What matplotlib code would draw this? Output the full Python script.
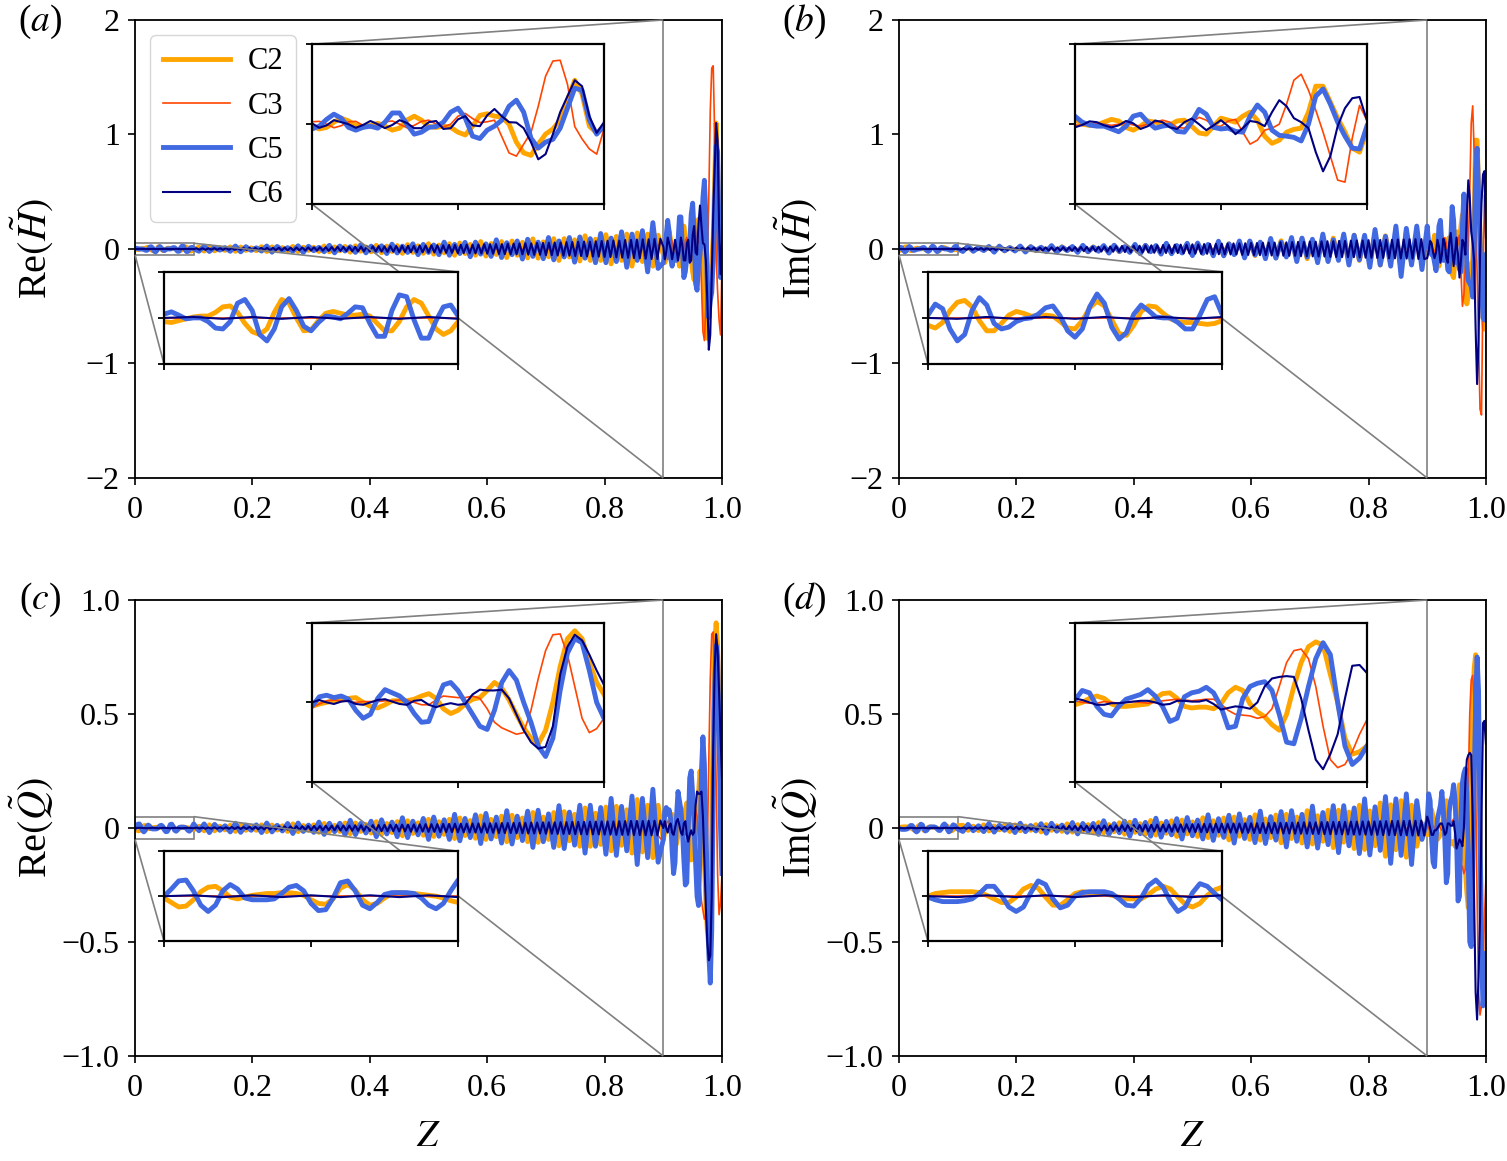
import numpy as np
import matplotlib.pyplot as plt
from mpl_toolkits.axes_grid1.inset_locator import mark_inset

plt.rcParams['font.family'] = ['Liberation Serif', 'DejaVu Serif']
plt.rcParams['mathtext.fontset'] = 'stix'

# sample grids in Z
z_low = np.linspace(0.0, 0.1, 41)
z_mid = np.linspace(0.1, 0.9, 91)[1:-1]
z_high = np.linspace(0.9, 1.0, 41)
z6_low = np.linspace(0.0, 0.1, 11)
z6_mid = np.linspace(0.1, 0.9, 161)[1:-1]
z3_low = [0.0, 0.1, 0.2, 0.3, 0.4, 0.5, 0.6, 0.7, 0.8, 0.88]

names = ['C2', 'C3', 'C5', 'C6']
colors = ['orange', 'orangered', 'royalblue', 'navy']
widths = [3.5, 1.2, 3.5, 1.5]

# ---------------- (a) Re(H) ----------------
c2_low_a = [-0.004,-0.005,-0.003,-0.001,0.001,0.002,0.002,0.006,0.012,0.013,0.006,-0.006,-0.015,-0.018,-0.012,0.006,0.02,0.016,0.0,-0.014,-0.013,-0.003,0.005,0.007,0.005,0.003,0.003,0.004,0.002,-0.006,-0.014,-0.014,-0.004,0.012,0.02,0.016,0.002,-0.012,-0.018,-0.014,-0.004]
c2_mid_a = [0.015,-0.018,0.02,-0.016,0.01,-0.012,0.018,-0.02,0.017,-0.012,0.01,
            -0.015,0.02,-0.022,0.018,-0.012,0.012,-0.018,0.022,-0.022,0.016,-0.012,
            0.015,-0.022,0.026,-0.025,0.018,-0.016,0.022,-0.028,0.028,-0.02,0.018,
            -0.025,0.032,-0.033,0.025,-0.022,0.03,-0.038,0.038,-0.03,0.028,-0.038,
            0.046,-0.045,0.034,-0.034,0.046,-0.055,0.052,-0.04,0.04,-0.055,0.065,
            -0.062,0.048,-0.048,0.065,-0.075,0.07,-0.055,0.058,-0.078,0.088,-0.08,
            0.062,-0.068,0.09,-0.1,0.09,-0.07,0.08,-0.105,0.115,-0.1,0.085,
            -0.1,0.125,-0.13,0.11,-0.1,0.13,-0.15,0.14,-0.11,0.13,-0.15,0.12]
c2_high_a = [-0.05,-0.12,-0.08,0.05,0.15,0.08,-0.03,-0.07,-0.03,0.02,-0.05,-0.15,-0.1,0.1,0.2,0.1,-0.06,-0.08,-0.05,-0.08,-0.2,-0.27,-0.05,0.22,0.26,0.2,0.18,0.0,-0.45,-0.72,-0.78,-0.5,-0.25,-0.12,0.1,0.6,1.1,0.75,-0.05,-0.22,-0.05]
c3_low_a = [0.0, 0.0, 0.0, 0.0, 0.0, 0.0, 0.0, 0.0, 0.0, 0.0]
c3_high_a = [0.06,0.07,0.0,-0.09,-0.04,0.06,0.07,-0.03,-0.09,-0.04,0.06,0.08,0.0,-0.09,-0.03,0.07,0.1,0.0,-0.07,0.0,0.2,0.27,0.14,0.04,0.06,0.1,-0.31,-0.72,-0.8,-0.5,-0.21,0.45,1.2,1.58,1.6,1.0,-0.06,-0.37,-0.62,-0.75,-0.12]
c5_low_a = [0.004,0.0066,0.003,-0.001,0.0,0.0,-0.004,-0.011,-0.012,-0.004,0.016,0.02,0.008,-0.018,-0.025,-0.012,0.012,0.021,0.008,-0.009,-0.014,-0.005,0.002,0.001,-0.001,0.005,0.012,0.011,-0.006,-0.02,-0.02,0.008,0.025,0.023,-0.002,-0.022,-0.022,-0.003,0.012,0.014,0.002]
c5_mid_a = [-0.02,0.025,-0.022,0.015,-0.01,0.012,-0.02,0.026,-0.025,0.02,-0.012,
            0.01,-0.018,0.026,-0.028,0.022,-0.014,0.012,-0.02,0.028,-0.03,0.024,
            -0.015,0.014,-0.024,0.032,-0.034,0.026,-0.018,0.02,-0.03,0.036,-0.034,
            0.025,-0.02,0.028,-0.04,0.042,-0.035,0.025,-0.03,0.045,-0.05,0.04,
            -0.03,0.035,-0.05,0.06,-0.055,0.04,-0.04,0.058,-0.068,0.06,-0.045,
            0.045,-0.065,0.08,-0.075,0.055,-0.05,0.07,-0.088,0.085,-0.065,0.06,
            -0.085,0.1,-0.095,0.07,-0.07,0.1,-0.115,0.105,-0.08,0.09,-0.12,
            0.135,-0.12,0.095,-0.11,0.15,-0.16,0.13,-0.1,0.16,-0.2,0.23,-0.17]
c5_high_a = [-0.12,-0.05,0.12,0.25,0.15,-0.08,-0.15,-0.08,-0.05,-0.1,0.05,0.28,0.28,0.0,-0.25,-0.2,-0.08,-0.06,0.05,0.3,0.4,0.15,-0.3,-0.36,-0.15,-0.05,0.1,0.45,0.6,0.3,-0.35,-0.6,-0.45,-0.38,-0.1,0.4,0.9,0.85,0.1,-0.25,-0.05]
c6_low_a = [0.0,0.001,-0.001,0.001,-0.001,0.001,-0.001,0.001,-0.001,0.001,-0.001]
c6_mid_a = [0.005,-0.006,0.006,-0.007,0.006,-0.006,0.007,-0.007,0.006,-0.007,
            0.008,-0.007,0.008,-0.008,0.007,-0.008,0.009,-0.008,0.009,-0.009,
            0.009,-0.01,0.01,-0.009,0.01,-0.011,0.01,-0.011,0.011,-0.012,
            0.012,-0.012,0.011,-0.013,0.013,-0.012,0.013,-0.014,0.014,-0.013,
            0.015,-0.015,0.016,-0.015,0.016,-0.017,0.017,-0.016,0.018,-0.018,
            0.019,-0.018,0.02,-0.02,0.019,-0.021,0.021,-0.02,0.022,-0.022,
            0.023,-0.022,0.024,-0.024,0.023,-0.025,0.025,-0.024,0.026,-0.026,
            0.027,-0.026,0.028,-0.028,0.027,-0.029,0.03,-0.029,0.03,-0.031,
            0.032,-0.031,0.033,-0.033,0.032,-0.034,0.035,-0.034,0.035,-0.036,
            0.037,-0.036,0.038,-0.038,0.037,-0.039,0.04,-0.039,0.041,-0.041,
            0.042,-0.041,0.043,-0.044,0.043,-0.045,0.046,-0.045,0.047,-0.047,
            0.048,-0.047,0.05,-0.05,0.049,-0.051,0.052,-0.051,0.053,-0.054,
            0.055,-0.054,0.057,-0.057,0.056,-0.059,0.06,-0.059,0.061,-0.062,
            0.063,-0.062,0.065,-0.065,0.064,-0.067,0.068,-0.067,0.07,-0.07,
            0.072,-0.071,0.074,-0.074,0.073,-0.076,0.078,-0.077,0.079,-0.08,
            0.082,-0.081,0.084,-0.085,0.084,-0.087,0.088,-0.088,0.09]
c6_high_a = [0.02,-0.09,-0.03,0.1,0.05,0.0,-0.09,-0.02,0.08,0.0,-0.1,-0.02,0.1,0.03,-0.1,-0.1,0.05,0.08,-0.12,-0.1,0.12,0.2,-0.03,-0.05,0.22,0.38,0.2,0.05,0.04,-0.1,-0.45,-0.88,-0.75,-0.25,0.3,0.7,1.1,0.95,0.2,-0.22,0.05]

# ---------------- (b) Im(H) ----------------
c2_low_b = [-0.008,-0.011,-0.005,0.008,0.017,0.019,0.012,-0.003,-0.014,-0.014,-0.006,0.003,0.007,0.005,0.002,0.002,0.003,0.002,-0.004,-0.011,-0.012,-0.003,0.011,0.018,0.013,-0.002,-0.017,-0.019,-0.008,0.007,0.013,0.012,0.005,-0.001,-0.004,-0.005,-0.005,-0.006,-0.007,-0.006,-0.003]
c2_mid_b = [-0.012,0.016,-0.018,0.014,-0.01,0.012,-0.016,0.019,-0.017,0.012,-0.01,
            0.014,-0.019,0.02,-0.015,0.011,-0.013,0.019,-0.022,0.019,-0.013,0.012,
            -0.018,0.024,-0.025,0.018,-0.015,0.02,-0.027,0.03,-0.024,0.017,-0.02,
            0.028,-0.034,0.03,-0.022,0.024,-0.034,0.04,-0.036,0.027,-0.027,0.036,
            -0.045,0.046,-0.036,0.032,-0.042,0.053,-0.055,0.045,-0.036,0.045,-0.06,
            0.066,-0.058,0.045,-0.05,0.068,-0.078,0.072,-0.055,0.06,-0.082,0.092,
            -0.085,0.065,-0.07,0.095,-0.105,0.095,-0.072,0.082,-0.11,0.12,-0.1,
            0.085,-0.1,0.13,-0.14,0.115,-0.1,0.13,-0.16,0.15,-0.12,0.14,-0.12]
c2_high_b = [0.12,0.0,-0.03,-0.02,0.05,0.12,0.08,-0.08,-0.15,-0.05,0.08,0.05,0.0,-0.02,0.08,0.1,-0.05,-0.22,-0.25,-0.05,0.15,0.1,0.05,0.2,0.3,0.1,-0.3,-0.48,-0.4,-0.2,-0.13,-0.1,0.3,0.95,0.95,0.55,0.15,-0.2,-0.6,-0.7,-0.15]
c3_low_b = [0.0, 0.0, 0.0, 0.0, 0.0, 0.0, 0.0, 0.0, 0.0, 0.0]
c3_high_b = [-0.02,-0.03,0.0,0.02,0.0,-0.03,0.0,0.02,-0.02,-0.05,0.0,0.05,0.1,0.05,-0.08,-0.1,0.05,0.17,0.1,-0.05,-0.05,0.08,0.12,-0.2,-0.5,-0.4,-0.15,-0.1,0.0,0.5,1.1,1.25,0.85,0.35,-0.2,-0.8,-1.4,-1.45,-0.35,0.47,0.1]
c5_low_b = [0.003,0.015,0.01,-0.012,-0.025,-0.018,0.008,0.022,0.014,-0.006,-0.012,-0.01,-0.004,-0.001,0.0,0.004,0.011,0.013,0.002,-0.014,-0.021,-0.012,0.012,0.026,0.016,-0.01,-0.023,-0.016,0.004,0.014,0.008,0.001,0.0,0.0,-0.005,-0.012,-0.012,0.003,0.02,0.023,0.004]
c5_mid_b = [-0.022,0.026,-0.02,0.012,-0.014,0.022,-0.028,0.025,-0.016,0.012,-0.018,
            0.026,-0.027,0.02,-0.012,0.015,-0.024,0.03,-0.027,0.017,-0.014,0.022,
            -0.03,0.032,-0.024,0.016,-0.02,0.03,-0.036,0.033,-0.022,0.02,-0.03,
            0.04,-0.042,0.032,-0.024,0.03,-0.045,0.05,-0.042,0.03,-0.035,0.05,
            -0.058,0.052,-0.038,0.04,-0.06,0.068,-0.06,0.045,-0.05,0.07,-0.078,
            0.07,-0.052,0.06,-0.085,0.092,-0.08,0.06,-0.07,0.1,-0.11,0.095,
            -0.07,0.085,-0.12,0.13,-0.11,0.08,-0.1,0.13,-0.14,0.12,-0.095,
            0.12,-0.16,0.17,-0.14,0.11,-0.15,0.2,-0.24,0.18,-0.14,0.2,-0.18]
c5_high_b = [0.2,0.05,-0.02,-0.05,-0.05,-0.12,-0.19,-0.05,0.2,0.25,0.05,-0.1,-0.05,-0.02,-0.18,-0.2,0.05,0.37,0.25,-0.08,-0.12,-0.1,-0.18,-0.2,0.2,0.48,0.3,-0.15,-0.28,-0.3,-0.33,-0.42,0.0,0.7,0.88,0.5,0.05,-0.3,-0.6,-0.62,-0.05]
c6_low_b = [0.0,-0.001,0.001,-0.001,0.001,-0.001,0.001,-0.001,0.001,-0.001,0.001]
c6_mid_b = [-0.006,0.006,-0.007,0.006,-0.007,0.007,-0.006,0.007,-0.008,0.007,
            -0.008,0.008,-0.009,0.008,-0.009,0.009,-0.01,0.009,-0.01,0.01,
            -0.011,0.01,-0.011,0.012,-0.011,0.012,-0.013,0.012,-0.013,0.014,
            -0.013,0.014,-0.015,0.014,-0.015,0.016,-0.016,0.015,-0.017,0.017,
            -0.018,0.017,-0.019,0.019,-0.018,0.02,-0.021,0.02,-0.022,0.022,
            -0.023,0.022,-0.024,0.025,-0.024,0.026,-0.027,0.026,-0.028,0.028,
            -0.029,0.028,-0.03,0.031,-0.03,0.032,-0.033,0.032,-0.034,0.035,
            -0.035,0.034,-0.036,0.037,-0.036,0.038,-0.039,0.038,-0.04,0.041,
            -0.041,0.04,-0.042,0.043,-0.042,0.044,-0.045,0.044,-0.046,0.047,
            -0.047,0.046,-0.048,0.049,-0.048,0.05,-0.051,0.05,-0.052,0.053,
            -0.053,0.052,-0.054,0.055,-0.054,0.056,-0.057,0.056,-0.058,0.059,
            -0.059,0.058,-0.06,0.061,-0.06,0.062,-0.063,0.062,-0.064,0.065,
            -0.065,0.064,-0.066,0.067,-0.066,0.068,-0.069,0.068,-0.07,0.071,
            -0.071,0.07,-0.072,0.073,-0.072,0.074,-0.075,0.074,-0.076,0.077,
            -0.077,0.076,-0.078,0.079,-0.078,0.08,-0.081,0.08,-0.082,0.083,
            -0.083,0.082,-0.084,0.085,-0.084,0.086,-0.087,0.086,-0.088]
c6_high_b = [-0.08,-0.02,0.07,0.05,-0.03,-0.08,-0.03,0.08,0.02,-0.12,-0.05,0.09,0.05,-0.08,-0.12,0.05,0.14,0.0,-0.15,-0.03,0.1,-0.05,-0.25,-0.1,0.08,0.05,-0.05,0.3,0.6,0.45,0.15,0.05,-0.1,-0.7,-1.18,-0.8,-0.05,0.4,0.65,0.68,0.1]

# ---------------- (c) Re(Q) ----------------
c2_low_c = [-0.002,-0.007,-0.012,-0.011,-0.004,0.005,0.01,0.011,0.006,-0.001,-0.003,-0.001,0.001,0.002,0.003,0.003,0.004,0.004,0.003,0.001,-0.004,-0.008,-0.009,-0.003,0.009,0.013,0.007,-0.004,-0.01,-0.008,-0.002,0.003,0.004,0.003,0.003,0.002,0.001,0.0,-0.002,-0.005,-0.007]
c2_mid_c = [0.008,-0.012,0.014,-0.012,0.008,-0.008,0.012,-0.015,0.014,-0.01,0.008,
            -0.01,0.014,-0.016,0.013,-0.009,0.01,-0.015,0.018,-0.016,0.011,-0.01,
            0.014,-0.019,0.02,-0.016,0.012,-0.015,0.022,-0.025,0.022,-0.015,0.016,
            -0.022,0.028,-0.027,0.02,-0.02,0.028,-0.034,0.032,-0.024,0.023,-0.032,
            0.038,-0.037,0.028,-0.028,0.038,-0.046,0.044,-0.033,0.033,-0.045,0.053,
            -0.05,0.038,-0.038,0.052,-0.06,0.056,-0.042,0.044,-0.06,0.068,-0.063,
            0.048,-0.05,0.068,-0.078,0.072,-0.056,0.06,-0.08,0.088,-0.08,0.065,
            -0.072,0.092,-0.1,0.095,-0.076,0.08,-0.11,0.125,-0.105,0.1,-0.13,0.1]
c2_high_c = [-0.05,-0.02,0.0,0.02,0.03,0.05,0.06,0.0,-0.05,-0.07,-0.03,0.02,0.02,0.02,0.04,0.08,0.11,0.05,-0.08,-0.14,-0.1,-0.02,0.04,0.06,0.15,0.25,0.18,0.03,-0.15,-0.32,-0.45,-0.52,-0.35,0.0,0.45,0.8,0.9,0.8,0.5,0.25,0.1]
c3_low_c = [0.0, 0.0, 0.0, 0.0, 0.0, 0.0, 0.0, 0.0, 0.0, 0.0]
c3_high_c = [-0.06,-0.02,0.02,0.03,0.02,0.01,0.0,0.01,0.01,0.01,0.02,0.02,0.03,0.03,0.0,-0.03,-0.03,0.03,0.08,0.07,0.06,0.06,0.08,0.05,-0.08,-0.25,-0.32,-0.36,-0.4,-0.38,-0.1,0.3,0.65,0.85,0.86,0.6,0.2,-0.2,-0.38,-0.33,-0.2]
c5_low_c = [0.0,0.008,0.017,0.018,0.006,-0.01,-0.017,-0.01,0.006,0.013,0.008,-0.002,-0.004,-0.004,-0.004,-0.003,0.003,0.01,0.012,0.006,-0.008,-0.016,-0.015,-0.002,0.015,0.017,0.006,-0.01,-0.014,-0.007,0.002,0.004,0.004,0.004,0.003,-0.002,-0.01,-0.014,-0.008,0.006,0.018]
c5_mid_c = [-0.012,0.018,-0.02,0.016,-0.01,0.01,-0.017,0.021,-0.019,0.013,-0.01,
            0.014,-0.02,0.022,-0.017,0.012,-0.013,0.02,-0.024,0.022,-0.015,0.013,
            -0.019,0.026,-0.028,0.021,-0.016,0.021,-0.03,0.034,-0.029,0.02,-0.022,
            0.03,-0.038,0.036,-0.026,0.026,-0.038,0.045,-0.042,0.03,-0.03,0.042,
            -0.05,0.048,-0.036,0.036,-0.05,0.06,-0.056,0.042,-0.042,0.058,-0.068,
            0.064,-0.048,0.048,-0.066,0.076,-0.07,0.052,-0.055,0.074,-0.085,0.078,
            -0.06,0.062,-0.085,0.098,-0.09,0.07,-0.075,0.1,-0.11,0.1,-0.08,
            0.09,-0.115,0.13,-0.12,0.095,-0.1,0.14,-0.16,0.13,-0.13,0.17,-0.15]
c5_high_c = [-0.05,0.07,0.09,0.06,0.08,0.04,-0.1,-0.2,-0.15,0.05,0.16,0.12,0.08,0.0,-0.14,-0.25,-0.24,0.0,0.22,0.25,0.15,0.0,-0.15,-0.3,-0.34,-0.1,0.25,0.4,0.28,0.0,-0.25,-0.55,-0.68,-0.45,0.15,0.62,0.8,0.75,0.4,0.0,-0.2]
c6_low_c = [0.0,0.001,-0.001,0.001,-0.001,0.001,-0.001,0.001,-0.001,0.001,-0.001]
c6_mid_c = [0.002,-0.002,0.002,-0.003,0.002,-0.003,0.003,-0.003,0.003,-0.003,
            0.003,-0.003,0.004,-0.004,0.004,-0.004,0.004,-0.004,0.005,-0.005,
            0.005,-0.005,0.005,-0.006,0.006,-0.006,0.006,-0.006,0.007,-0.007,
            0.007,-0.007,0.007,-0.008,0.008,-0.008,0.008,-0.008,0.009,-0.009,
            0.009,-0.009,0.009,-0.01,0.01,-0.01,0.01,-0.01,0.011,-0.011,
            0.011,-0.011,0.011,-0.012,0.012,-0.012,0.012,-0.012,0.013,-0.013,
            0.013,-0.013,0.013,-0.014,0.014,-0.014,0.014,-0.014,0.015,-0.015,
            0.015,-0.015,0.015,-0.016,0.016,-0.016,0.016,-0.016,0.017,-0.017,
            0.017,-0.017,0.017,-0.018,0.018,-0.018,0.018,-0.018,0.019,-0.019,
            0.019,-0.019,0.019,-0.02,0.02,-0.02,0.02,-0.02,0.021,-0.021,
            0.021,-0.021,0.021,-0.022,0.022,-0.022,0.022,-0.022,0.023,-0.023,
            0.023,-0.023,0.023,-0.024,0.024,-0.024,0.024,-0.024,0.025,-0.025,
            0.025,-0.025,0.025,-0.026,0.026,-0.026,0.026,-0.026,0.027,-0.027,
            0.027,-0.027,0.027,-0.028,0.028,-0.028,0.028,-0.028,0.029,-0.029,
            0.029,-0.029,0.029,-0.03,0.03,-0.03,0.03,-0.03,0.031,-0.031,
            0.031,-0.031,0.031,-0.032,0.032,-0.032,0.032,-0.032,0.033]
c6_high_c = [0.0,0.03,0.0,-0.02,0.01,0.02,-0.02,-0.03,0.0,0.03,0.04,0.01,-0.02,-0.03,0.02,0.03,-0.03,-0.06,-0.03,-0.01,-0.03,-0.02,0.1,0.16,0.15,0.15,0.16,0.05,-0.15,-0.35,-0.5,-0.58,-0.56,-0.3,0.35,0.7,0.85,0.78,0.6,0.4,0.22]

# ---------------- (d) Im(Q) ----------------
c2_low_d = [0.0,0.003,0.004,0.005,0.005,0.005,0.005,0.004,0.001,-0.003,-0.007,-0.007,-0.001,0.008,0.012,0.009,-0.001,-0.01,-0.01,-0.004,0.003,0.005,0.004,0.003,0.003,0.001,-0.001,-0.003,-0.003,-0.003,0.002,0.008,0.011,0.008,-0.001,-0.009,-0.012,-0.008,0.001,0.007,0.01]
c2_mid_d = [0.012,-0.01,0.008,-0.011,0.014,-0.013,0.009,-0.008,0.012,-0.015,0.014,
            -0.012,0.009,-0.01,0.015,-0.017,0.015,-0.01,0.01,-0.015,0.018,-0.018,
            0.015,-0.012,0.015,-0.021,0.024,-0.021,0.015,-0.016,0.023,-0.027,0.026,
            -0.019,0.019,-0.027,0.033,-0.031,0.022,-0.023,0.032,-0.037,0.035,-0.026,
            0.027,-0.037,0.045,-0.042,0.032,-0.032,0.044,-0.052,0.048,-0.036,0.037,
            -0.05,0.058,-0.053,0.04,-0.042,0.057,-0.065,0.06,-0.046,0.048,-0.066,
            0.076,-0.07,0.054,-0.058,0.078,-0.086,0.078,-0.062,0.07,-0.09,0.1,
            -0.094,0.075,-0.078,0.11,-0.124,0.102,-0.095,0.12,-0.128,0.1,-0.08,0.02]
c2_high_d = [-0.03,0.0,0.05,0.08,0.05,-0.02,-0.05,-0.05,-0.04,-0.03,-0.02,0.05,0.11,0.12,0.05,-0.05,-0.07,-0.06,-0.06,-0.08,-0.02,0.12,0.19,0.15,-0.02,-0.12,-0.18,-0.28,-0.35,-0.15,0.2,0.5,0.7,0.76,0.72,0.35,0.0,-0.45,-0.65,-0.62,-0.55]
c3_low_d = [0.0, 0.0, 0.0, 0.0, 0.0, 0.0, 0.0, 0.0, 0.0, 0.0]
c3_high_d = [0.02,0.0,-0.01,-0.01,0.01,0.0,-0.01,0.0,0.01,0.0,-0.01,0.0,0.02,0.03,0.04,0.03,0.02,0.03,0.04,0.04,-0.02,-0.1,-0.15,-0.16,-0.17,-0.2,-0.18,-0.08,0.2,0.5,0.65,0.67,0.55,0.2,-0.3,-0.72,-0.82,-0.78,-0.62,-0.4,-0.22]
c5_low_d = [-0.001,-0.004,-0.006,-0.006,-0.006,-0.005,-0.003,0.003,0.011,0.011,0.001,-0.012,-0.017,-0.012,0.004,0.017,0.013,-0.003,-0.013,-0.01,0.0,0.004,0.005,0.005,0.005,0.003,-0.003,-0.01,-0.011,-0.002,0.012,0.018,0.01,-0.006,-0.017,-0.012,0.004,0.014,0.011,0.003,-0.004]
c5_mid_d = [-0.015,0.016,-0.012,0.01,-0.016,0.02,-0.018,0.012,-0.01,0.015,-0.02,
            0.021,-0.016,0.011,-0.013,0.019,-0.023,0.021,-0.014,0.013,-0.019,0.024,
            -0.026,0.02,-0.015,0.02,-0.028,0.032,-0.028,0.019,-0.021,0.03,-0.036,
            0.034,-0.025,0.025,-0.036,0.043,-0.04,0.029,-0.03,0.041,-0.048,0.046,
            -0.034,0.035,-0.048,0.058,-0.054,0.041,-0.041,0.056,-0.066,0.062,-0.046,
            0.047,-0.064,0.074,-0.068,0.05,-0.053,0.072,-0.083,0.076,-0.058,0.06,
            -0.083,0.096,-0.088,0.068,-0.073,0.098,-0.108,0.098,-0.078,0.088,-0.112,
            0.128,-0.118,0.093,-0.098,0.138,-0.155,0.128,-0.12,0.15,-0.16,0.12,-0.05]
c5_high_d = [0.03,0.15,0.12,-0.05,-0.15,-0.17,-0.05,0.04,0.07,0.1,0.16,0.08,-0.05,-0.24,-0.2,0.07,0.12,0.14,0.19,0.12,-0.05,-0.32,-0.3,0.05,0.2,0.24,0.26,0.15,-0.15,-0.5,-0.52,-0.2,0.2,0.55,0.75,0.6,0.0,-0.55,-0.78,-0.7,-0.55]
c6_low_d = [0.0,-0.001,0.001,-0.001,0.001,-0.001,0.001,-0.001,0.001,-0.001,0.001]
c6_mid_d = [-0.002,0.002,-0.003,0.002,-0.003,0.003,-0.003,0.003,-0.003,0.004,
            -0.004,0.003,-0.004,0.004,-0.005,0.004,-0.005,0.005,-0.005,0.005,
            -0.006,0.005,-0.006,0.006,-0.007,0.006,-0.007,0.007,-0.007,0.007,
            -0.008,0.007,-0.008,0.008,-0.009,0.008,-0.009,0.009,-0.009,0.009,
            -0.01,0.009,-0.01,0.01,-0.011,0.01,-0.011,0.011,-0.011,0.011,
            -0.012,0.011,-0.012,0.012,-0.013,0.012,-0.013,0.013,-0.013,0.013,
            -0.014,0.013,-0.014,0.014,-0.015,0.014,-0.015,0.015,-0.015,0.015,
            -0.016,0.015,-0.016,0.016,-0.017,0.016,-0.017,0.017,-0.017,0.017,
            -0.018,0.017,-0.018,0.018,-0.019,0.018,-0.019,0.019,-0.019,0.019,
            -0.02,0.019,-0.02,0.02,-0.021,0.02,-0.021,0.021,-0.021,0.021,
            -0.022,0.021,-0.022,0.022,-0.023,0.022,-0.023,0.023,-0.023,0.023,
            -0.024,0.023,-0.024,0.024,-0.025,0.024,-0.025,0.025,-0.025,0.025,
            -0.026,0.025,-0.026,0.026,-0.027,0.026,-0.027,0.027,-0.027,0.027,
            -0.028,0.027,-0.028,0.028,-0.029,0.028,-0.029,0.029,-0.029,0.029,
            -0.03,0.029,-0.03,0.03,-0.031,0.03,-0.031,0.031,-0.031,0.031,
            -0.032,0.031,-0.032,0.032,-0.033,0.032,-0.033,0.033,-0.033]
c6_high_d = [0.05,0.03,0.0,-0.03,-0.03,-0.01,-0.01,0.0,0.01,0.02,0.02,0.0,-0.03,-0.02,0.02,0.02,0.01,0.01,0.03,-0.02,-0.09,-0.07,-0.05,-0.06,-0.08,0.0,0.2,0.3,0.32,0.33,0.32,0.05,-0.35,-0.72,-0.84,-0.65,-0.4,0.05,0.46,0.47,0.37]

ylabels = [r'Re$(\tilde{H})$', r'Im$(\tilde{H})$', r'Re$(\tilde{Q})$', r'Im$(\tilde{Q})$']
tags = ['a', 'b', 'c', 'd']
yticks_H = [-2, -1, 0, 1, 2]
yticklabels_H = ['\u22122', '\u22121', '0', '1', '2']
yticks_Q = [-1.0, -0.5, 0, 0.5, 1.0]
yticklabels_Q = ['\u22121.0', '\u22120.5', '0', '0.5', '1.0']
xticks = [0, 0.2, 0.4, 0.6, 0.8, 1.0]
xticklabels = ['0', '0.2', '0.4', '0.6', '0.8', '1.0']


def series(c2l, c2m, c2h, c3l, c3h, c5l, c5m, c5h, c6l, c6m, c6h):
    zc = np.concatenate([z_low, z_mid, z_high])
    return [
        (zc, np.concatenate([c2l, c2m, c2h])),
        (np.concatenate([z3_low, z_high]), np.concatenate([c3l, c3h])),
        (zc, np.concatenate([c5l, c5m, c5h])),
        (np.concatenate([z6_low, z6_mid, z_high]), np.concatenate([c6l, c6m, c6h])),
    ]


data = [
    series(c2_low_a, c2_mid_a, c2_high_a, c3_low_a, c3_high_a, c5_low_a, c5_mid_a, c5_high_a, c6_low_a, c6_mid_a, c6_high_a),
    series(c2_low_b, c2_mid_b, c2_high_b, c3_low_b, c3_high_b, c5_low_b, c5_mid_b, c5_high_b, c6_low_b, c6_mid_b, c6_high_b),
    series(c2_low_c, c2_mid_c, c2_high_c, c3_low_c, c3_high_c, c5_low_c, c5_mid_c, c5_high_c, c6_low_c, c6_mid_c, c6_high_c),
    series(c2_low_d, c2_mid_d, c2_high_d, c3_low_d, c3_high_d, c5_low_d, c5_mid_d, c5_high_d, c6_low_d, c6_mid_d, c6_high_d),
]

# main ylim and upper-inset ylim per panel
main_ylim = [(-2, 2), (-2, 2), (-1, 1), (-1, 1)]
top_ylim = [(-1, 2), (-2, 2), (-1, 1), (-1, 1)]

fig = plt.figure(figsize=(15.07, 11.61), dpi=100)
lefts = [0.0896, 0.5965, 0.0896, 0.5965]
bottoms = [0.5883, 0.5883, 0.0904, 0.0904]
heights = [0.3945, 0.3945, 0.3928, 0.3928]

FS = 23


def draw(ax, curves):
    lines = []
    for (z, y), c, w, n in zip(curves, colors, widths, names):
        l, = ax.plot(z, y, color=c, lw=w, label=n)
        lines.append(l)
    return lines


for i in range(4):
    ax = fig.add_axes([lefts[i], bottoms[i], 0.3895, heights[i]])
    lines = draw(ax, data[i])
    ax.set_xlim(0, 1)
    ax.set_ylim(*main_ylim[i])
    ax.set_xticks(xticks, xticklabels)
    if i < 2:
        ax.set_yticks(yticks_H, yticklabels_H)
    else:
        ax.set_yticks(yticks_Q, yticklabels_Q)
    ax.tick_params(direction='out', length=5, width=1.2, labelsize=FS, pad=6)
    ax.tick_params(axis='x', pad=8)
    for s in ax.spines.values():
        s.set_linewidth(1.3)
    ax.set_ylabel(ylabels[i], fontsize=29)
    ax.yaxis.set_label_coords(-0.135, 0.5)
    if i >= 2:
        ax.set_xlabel(r'$Z$', fontsize=27)
        ax.xaxis.set_label_coords(0.5, -0.14)
    ax.text(-0.162, 0.996 if i < 2 else 1.0, '(' + r'$' + tags[i] + r'$' + ')',
            transform=ax.transAxes, ha='center', va='center', fontsize=27)

    # upper inset: zoom on 0.9 <= Z <= 1
    y0 = 0.598 if i < 2 else 0.601
    axt = ax.inset_axes([0.3015 if i % 2 == 0 else 0.2998, y0, 0.4974, 0.349])
    draw(axt, data[i])
    axt.set_xlim(0.9, 1.0)
    axt.set_ylim(*top_ylim[i])
    axt.set_xticks([0.9, 0.95, 1.0])
    lo, hi = main_ylim[i]
    axt.set_yticks([lo, 0, hi])
    axt.tick_params(labelleft=False, labelbottom=False, length=4, width=1.3)
    for s in axt.spines.values():
        s.set_linewidth(1.6)
    mark_inset(ax, axt, loc1=2, loc2=3, fc='none', ec='0.5', lw=1.2)

    # lower inset: zoom on 0 <= Z <= 0.1
    axl = ax.inset_axes([0.0494, 0.249 if i < 2 else 0.252, 0.501, 0.201 if i < 2 else 0.197])
    draw(axl, data[i])
    axl.set_xlim(0.0, 0.1)
    axl.set_ylim(-0.05, 0.05)
    axl.set_xticks([0.0, 0.05, 0.1])
    axl.set_yticks([-0.05, 0.0, 0.05])
    axl.tick_params(labelleft=False, labelbottom=False, length=4, width=1.3)
    for s in axl.spines.values():
        s.set_linewidth(1.6)
    mark_inset(ax, axl, loc1=1, loc2=3, fc='none', ec='0.5', lw=1.2)

    if i == 0:
        ax.legend(handles=lines, loc='upper left', fontsize=22,
                  handlelength=2.2, handletextpad=0.6)

fig.savefig('out.png', dpi=100)
